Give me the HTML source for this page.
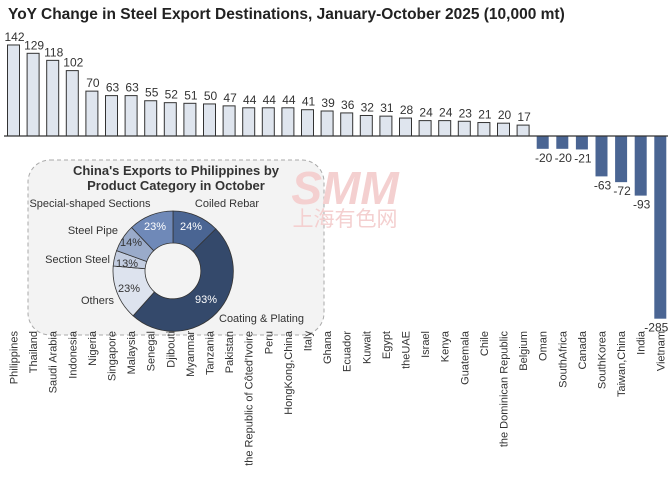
<!DOCTYPE html><html><head><meta charset="utf-8"><style>body{margin:0;background:#fff}svg{display:block;font-family:"Liberation Sans","DejaVu Sans",sans-serif}</style></head><body>
<svg width="672" height="492" viewBox="0 0 672 492" xmlns="http://www.w3.org/2000/svg">
<text x="8" y="19" font-size="15.5" font-weight="bold" fill="#222">YoY Change in Steel Export Destinations, January-October 2025 (10,000 mt)</text>
<g id="bars"></g>
<line x1="4" y1="136" x2="668" y2="136" stroke="#333" stroke-width="1.2"/>
<rect x="28" y="160" width="296" height="175" rx="22" fill="#f2f2f2" fill-opacity="0.92" stroke="#aaa" stroke-dasharray="4,3"/>
<text x="345" y="204" font-size="46" font-weight="bold" fill="#f4d0d0" text-anchor="middle" font-style="italic">SMM</text>
<text x="345" y="226" font-size="21" fill="#f4d0d0" text-anchor="middle" font-family="Noto Sans CJK SC,sans-serif">上海有色网</text>
<text x="176" y="175" font-size="13" font-weight="bold" fill="#333" text-anchor="middle">China's Exports to Philippines by</text>
<text x="176" y="190" font-size="13" font-weight="bold" fill="#333" text-anchor="middle">Product Category in October</text>
<g stroke="#333" stroke-width="0.8">
<path d="M173,211 A60,60 0 0 1 215.8,228.9 L193,251.4 A28,28 0 0 0 173,243Z" fill="#4a6593"/>
<path d="M215.8,228.9 A60,60 0 0 1 133.1,315.8 L154.4,291.9 A28,28 0 0 0 193,251.4Z" fill="#34496b"/>
<path d="M133.1,315.8 A60,60 0 0 1 113.2,266 L145.1,268.7 A28,28 0 0 0 154.4,291.9Z" fill="#dde3ee"/>
<path d="M113.2,266 A60,60 0 0 1 116.6,250.6 L146.7,261.5 A28,28 0 0 0 145.1,268.7Z" fill="#c3cde0"/>
<path d="M116.6,250.6 A60,60 0 0 1 131.6,227.5 L153.7,250.7 A28,28 0 0 0 146.7,261.5Z" fill="#9aabca"/>
<path d="M131.6,227.5 A60,60 0 0 1 173,211 L173,243 A28,28 0 0 0 153.7,250.7Z" fill="#6f89b8"/>
</g>
<g font-size="11" fill="#333">
<text x="90" y="207" text-anchor="middle">Special-shaped Sections</text>
<text x="227" y="207" text-anchor="middle">Coiled Rebar</text>
<text x="118" y="234" text-anchor="end">Steel Pipe</text>
<text x="110" y="263" text-anchor="end">Section Steel</text>
<text x="114" y="304" text-anchor="end">Others</text>
<text x="219" y="322">Coating &amp; Plating</text>
<text x="155" y="230" text-anchor="middle" fill="#fff">23%</text>
<text x="191" y="230" text-anchor="middle" fill="#fff">24%</text>
<text x="131" y="246" text-anchor="middle">14%</text>
<text x="127" y="267" text-anchor="middle">13%</text>
<text x="129" y="292" text-anchor="middle">23%</text>
<text x="206" y="303" text-anchor="middle" fill="#fff">93%</text>
</g>
<g id="labs"></g>
</svg>
<script>
var n=["Philippines","Thailand","Saudi Arabia","Indonesia","Nigeria","Singapore","Malaysia","Senegal","Djibouti","Myanmar","Tanzania","Pakistan","the Republic of Côted'Ivoire","Peru","HongKong,China","Italy","Ghana","Ecuador","Kuwait","Egypt","theUAE","Israel","Kenya","Guatemala","Chile","the Dominican Republic","Belgium","Oman","SouthAfrica","Canada","SouthKorea","Taiwan,China","India","Vietnam"];
var v=[142,129,118,102,70,63,63,55,52,51,50,47,44,44,44,41,39,36,32,31,28,24,24,23,21,20,17,-20,-20,-21,-63,-72,-93,-285];
var s='',t='',k=0.641,b=136;
for(var i=0;i<34;i++){var c=13.5+i*19.6,h=v[i]*k;
if(v[i]>0){s+='<rect x="'+(c-6)+'" y="'+(b-h)+'" width="12" height="'+h+'" fill="#dfe5ee" stroke="#333" stroke-width="1"/>';s+='<text x="'+(c+1)+'" y="'+(b-h-4)+'" font-size="12" text-anchor="middle" fill="#333">'+v[i]+'</text>';}
else{s+='<rect x="'+(c-6)+'" y="'+b+'" width="12" height="'+(-h)+'" fill="#4a6593"/>';s+='<text x="'+(i==33?c-4:c+1)+'" y="'+(b-h+13)+'" font-size="12" text-anchor="middle" fill="#333">'+v[i]+'</text>';}
t+='<text transform="translate('+(c+4)+',331) rotate(-90)" font-size="11" text-anchor="end" fill="#333">'+n[i]+'</text>';}
document.getElementById('bars').innerHTML=s;
document.getElementById('labs').innerHTML=t;
</script>
</body></html>
